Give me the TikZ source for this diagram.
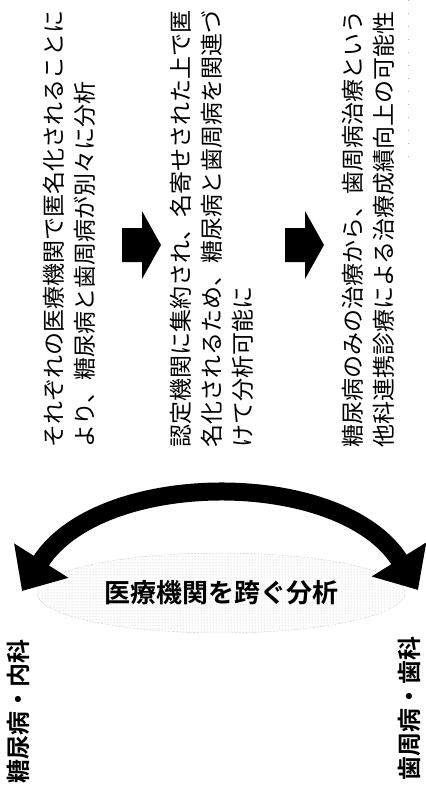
\documentclass[tikz,border=0pt]{standalone}
\usepackage{fontspec}
\newfontfamily\jpfont{Noto Sans CJK JP}[BoldFont={Noto Sans CJK JP Bold}]
\usetikzlibrary{shapes.geometric,arrows.meta,patterns}

\begin{document}
\begin{tikzpicture}[x=1pt, y=-1pt, font=\jpfont,
  txt/.style={rotate=90, anchor=north west, inner sep=0pt, align=left,
              font=\jpfont\fontsize{23}{31}\selectfont},
  lbl/.style={rotate=90, anchor=north west, inner sep=0pt,
              font=\jpfont\bfseries\fontsize{24}{28}\selectfont},
  blk/.style={fill=black},
  swing/.style={line width=18pt,
              {Triangle[width=62pt,length=36pt]}-{Triangle[width=62pt,length=36pt]}}]
  \useasboundingbox (0,0) rectangle (426,788);
  % Departments
  \node[lbl] (dm) at (7,784)   {糖尿病・内科};
  \node[lbl] (pd) at (398,781) {歯周病・歯科};
  % Cross-institution analysis
  \node[ellipse, minimum width=368pt, minimum height=80pt, inner sep=0pt,
        pattern=dots, pattern color=gray!55, draw=gray!70, densely dotted,
        font=\jpfont\bfseries\fontsize{26}{30}\selectfont] (cross) at (221,593)
        {医療機関を跨ぐ分析};
  \coordinate (tipL) at (22,591);
  \coordinate (tipR) at (418,590);
  \draw[swing] (tipL) .. controls (100,468) and (342,468) .. (tipR);
  % Text blocks
  \node[txt] (stepA) at (43,448)  {それぞれの医療機関で匿名化されることに\\より、糖尿病と歯周病が別々に分析};
  \node[txt] (stepB) at (170,448) {認定機関に集約され、名寄せされた上で匿\\名化されるため、糖尿病と歯周病を関連づ\\けて分析可能に};
  \node[txt] (stepC) at (342,448) {糖尿病のみの治療から、歯周病治療という\\他科連携診療による治療成績向上の可能性};
  % Block arrows
  \foreach \x in {122,285}
    \fill[blk, shift={(\x,0)}] (0,228) -- (20,228) -- (20,211) -- (39,245)
      -- (20,279) -- (20,262) -- (0,262) -- cycle;
  % Edge marks
  \coordinate (edgeT) at (408,0);
  \coordinate (edgeB) at (408,160);
  \draw[gray!60, line width=0.8pt, dash pattern=on 1pt off 12pt] (edgeT) -- (edgeB);
\end{tikzpicture}
\end{document}
